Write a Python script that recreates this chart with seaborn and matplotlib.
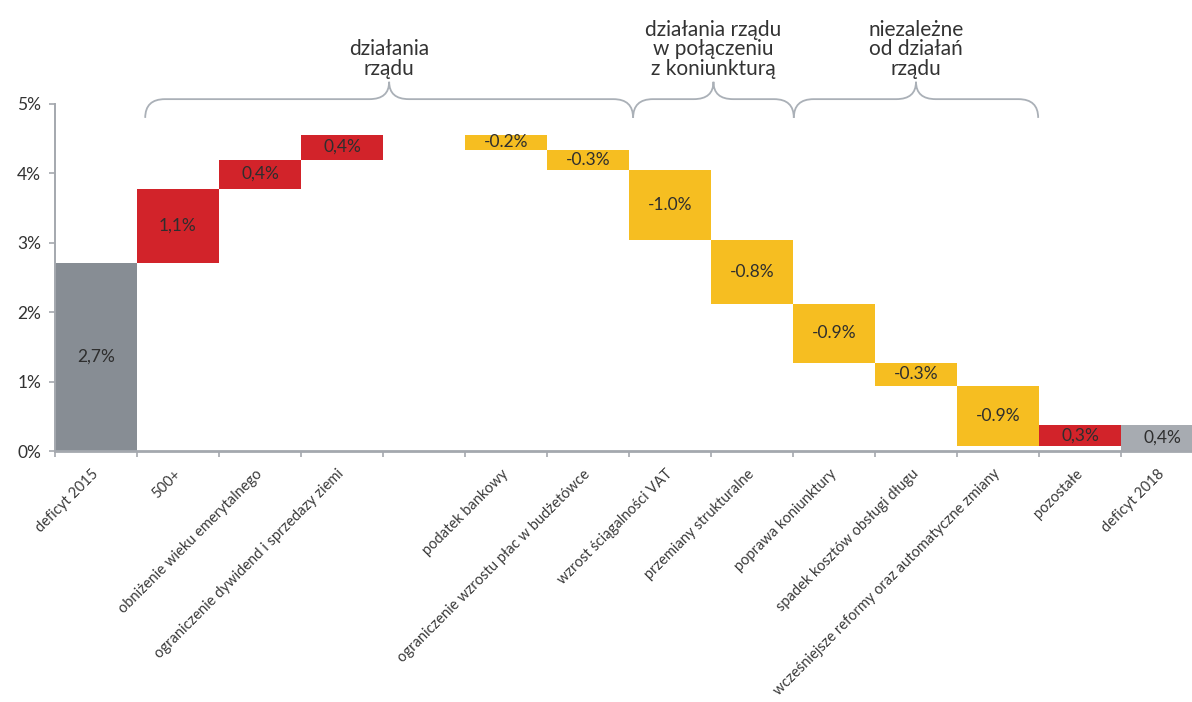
import numpy as np
import pandas as pd
import seaborn as sns
import matplotlib.pyplot as plt
from matplotlib.path import Path
from matplotlib.patches import PathPatch

# categories (empty slot between the two government groups)
categories = ['deficyt 2015', '500+', 'obniżenie wieku emerytalnego',
              'ograniczenie dywidend i sprzedazy ziemi', '',
              'podatek bankowy', 'ograniczenie wzrostu płac w budżetówce',
              'wzrost ściągalności VAT', 'przemiany strukturalne',
              'poprawa koniunktury', 'spadek kosztów obsługi długu',
              'wcześniejsze reformy oraz automatyczne zmiany',
              'pozostałe', 'deficyt 2018']
start_value = 2.71
changes = [1.07, 0.42, 0.36, -0.22, -0.29, -1.01, -0.92, -0.85, -0.33, -0.87, 0.30]
end_value = 0.38
bar_labels = ['2,7%', '1,1%', '0,4%', '0,4%', '', '-0.2%', '-0.3%', '-1.0%',
              '-0.8%', '-0.9%', '-0.3%', '-0.9%', '0,3%', '0,4%']
kinds = ['total', 'up', 'up', 'up', 'gap', 'down', 'down', 'down', 'down',
         'down', 'down', 'down', 'up', 'total_end']

groups = ['działania\nrządu', 'działania rządu\nw połączeniu\nz koniunkturą',
          'niezależne\nod działań\nrządu']
group_spans = [(0.6, 6.55), (6.55, 8.51), (8.51, 11.49)]

# waterfall bottoms/heights
bottoms, heights = [0], [start_value]
level = start_value
ci = 0
for k in kinds[1:]:
    if k == 'gap':
        bottoms.append(0); heights.append(0)
    elif k == 'total_end':
        bottoms.append(0); heights.append(end_value)
    else:
        c = changes[ci]; ci += 1
        bottoms.append(min(level, level + c)); heights.append(abs(c))
        level += c

colors = {'total': '#878d94', 'up': '#d2232a', 'down': '#f6be21',
          'gap': '#ffffff', 'total_end': '#a7abb1'}
df = pd.DataFrame({'pos': [str(i) for i in range(len(categories))],
                   'height': heights, 'bottom': bottoms, 'kind': kinds})

plt.rcParams['font.family'] = ['Lato', 'DejaVu Sans']
fig = plt.figure(figsize=(11.92, 7.02), dpi=100)
ax = fig.add_axes([55 / 1192, (702 - 451) / 702, 14 * 82 / 1192, 347 / 702])

sns.barplot(data=df, x='pos', y='height', hue='pos',
            palette=[colors[k] for k in kinds], legend=False, saturation=1,
            width=1.0, linewidth=0, ax=ax)

for p in ax.patches:
    i = int(round(p.get_x() + p.get_width() / 2))
    p.set_y(df['bottom'][i])
    if bar_labels[i]:
        ax.text(i, df['bottom'][i] + df['height'][i] / 2, bar_labels[i],
                ha='center', va='center', fontsize=12.5, color='#2e2e2e')

ax.set_xlim(-0.5, len(categories) - 0.5)
ax.set_ylim(0, 5)
ax.set_yticks(range(6))
ax.set_yticklabels([f'{v}%' for v in range(6)], fontsize=12.5, color='#333333')
ax.set_xlabel('')
ax.set_ylabel('')

ax.set_xticks(range(len(categories)))
ax.set_xticklabels(categories, rotation=45, ha='right', va='center',
                   rotation_mode='anchor', fontsize=10.5, color='#3a3a3a')
ax.tick_params(axis='x', which='major', length=0, pad=15)
ax.set_xticks(np.arange(-0.5, len(categories), 1), minor=True)
ax.tick_params(axis='x', which='minor', length=4, width=1.2, color='#a4a8ae')
ax.tick_params(axis='y', length=4, width=1.2, color='#a4a8ae', pad=6)

for s in ['top', 'right']:
    ax.spines[s].set_visible(False)
ax.spines['left'].set_color('#a4a8ae')
ax.spines['left'].set_linewidth(1.4)
ax.spines['bottom'].set_color('#a4a8ae')
ax.spines['bottom'].set_linewidth(2)

# curly braces over the groups
y_line, y_end, y_tip = 5.07, 4.80, 5.32
rx = 0.24
for (x0, x1), title in zip(group_spans, groups):
    xm = (x0 + x1) / 2
    verts = [(x0, y_end), (x0, y_line), (x0 + rx, y_line),
             (xm - rx, y_line), (xm, y_line), (xm, y_tip),
             (xm, y_line), (xm + rx, y_line),
             (x1 - rx, y_line), (x1, y_line), (x1, y_end)]
    codes = [Path.MOVETO, Path.CURVE3, Path.CURVE3,
             Path.LINETO, Path.CURVE3, Path.CURVE3,
             Path.CURVE3, Path.CURVE3,
             Path.LINETO, Path.CURVE3, Path.CURVE3]
    ax.add_patch(PathPatch(Path(verts, codes), fill=False, lw=1.3,
                           edgecolor='#aab0b7', clip_on=False))
    ax.text(xm, 5.36, title, ha='center', va='bottom', fontsize=15,
            color='#333333', linespacing=0.98, clip_on=False)

fig.savefig('out.png', dpi=100)
